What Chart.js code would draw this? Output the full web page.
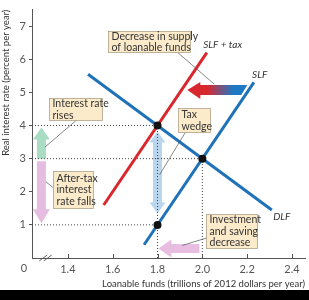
<!DOCTYPE html>
<html>
<head>
<meta charset="utf-8">
<script src="https://cdn.jsdelivr.net/npm/chart.js@4"></script>
<style>
  html, body { margin: 0; padding: 0; background: #000; }
  #wrap { width: 309px; height: 290px; background: #fff; }
</style>
</head>
<body>
<div id="wrap"><canvas id="chart" width="309" height="290"></canvas></div>
<script>
// curve endpoints (loanable funds, interest rate)
const slfX = [1.74, 2.23];
const slfY = [0.4, 5.3];
const slfTaxX = [1.56, 2.02];
const slfTaxY = [1.6, 6.2];
const dlfX = [1.49, 2.31];
const dlfY = [5.55, 1.45];
const eqX = [1.8, 2.0, 1.8];
const eqY = [4, 3, 1];

const xTicks = [1.4, 1.6, 1.8, 2.0, 2.2, 2.4];
const yTicks = [1, 2, 3, 4, 5, 6, 7];
const X_MIN = 1.24, X_MAX = 2.458, Y_MAX = 7.5;

const FONT = 'Lato, "Open Sans", sans-serif';
const BLUE = '#1f72b8', RED = '#d9272e';

const pts = (xs, ys) => xs.map((x, i) => ({ x, y: ys[i] }));

function dotted(xs, ys) {
  return { data: pts(xs, ys), showLine: true, borderColor: '#444', borderWidth: 1,
    borderDash: [1, 2], pointRadius: 0, order: 5 };
}

// annotation boxes: [xLeft, yTop, xRight, yBottom] in data units
const boxes = [
  { r: [1.578, 6.86, 1.942, 6.22], lines: ['Decrease in supply', 'of loanable funds'] },
  { r: [1.893, 4.52, 2.036, 3.79], lines: ['Tax', 'wedge'] },
  { r: [1.316, 4.84, 1.551, 4.17], lines: ['Interest rate', 'rises'] },
  { r: [1.333, 2.62, 1.511, 1.49], lines: ['After-tax', 'interest', 'rate falls'] },
  { r: [2.018, 1.34, 2.244, 0.32], lines: ['Investment', 'and saving', 'decrease'] }
];
const leaders = [
  [1.889, 6.21, 2.053, 5.25],
  [1.924, 3.79, 1.809, 2.51],
  [1.44, 4.17, 1.298, 3.35],
  [1.333, 2.13, 1.302, 2.30],
  [2.036, 0.64, 1.911, 0.38]
];
const curveLabels = [
  { x: 2.004, y: 6.44, t: 'SLF + tax' },
  { x: 2.222, y: 5.54, t: 'SLF' },
  { x: 2.316, y: 1.25, t: 'DLF' }
];

function arrow(ctx, x1, y1, x2, y2, bw, hw, hl, fill) {
  const len = Math.hypot(x2 - x1, y2 - y1);
  const ux = (x2 - x1) / len, uy = (y2 - y1) / len;
  const nx = -uy, ny = ux;
  const bx = x2 - ux * hl, by = y2 - uy * hl;
  ctx.beginPath();
  ctx.moveTo(x1 + nx * bw / 2, y1 + ny * bw / 2);
  ctx.lineTo(bx + nx * bw / 2, by + ny * bw / 2);
  ctx.lineTo(bx + nx * hw / 2, by + ny * hw / 2);
  ctx.lineTo(x2, y2);
  ctx.lineTo(bx - nx * hw / 2, by - ny * hw / 2);
  ctx.lineTo(bx - nx * bw / 2, by - ny * bw / 2);
  ctx.lineTo(x1 - nx * bw / 2, y1 - ny * bw / 2);
  ctx.closePath();
  ctx.fillStyle = fill;
  ctx.fill();
}

const decorations = {
  id: 'decorations',
  beforeDatasetsDraw(chart) {
    const { ctx } = chart;
    const X = v => chart.scales.x.getPixelForValue(v);
    const Y = v => chart.scales.y.getPixelForValue(v);
    ctx.save();
    // rate rises / falls arrows
    arrow(ctx, X(1.282), Y(3.0), X(1.282), Y(3.94), 9, 17, 12, '#a9dcc3');
    arrow(ctx, X(1.282), Y(2.92), X(1.282), Y(1.05), 9, 17, 14, '#e4bde0');
    // tax wedge double arrow
    const cx = X(1.8), top = Y(3.82), bot = Y(1.34);
    ctx.beginPath();
    ctx.moveTo(cx, top);
    ctx.lineTo(cx + 8, top + 11); ctx.lineTo(cx + 4.5, top + 11);
    ctx.lineTo(cx + 4.5, bot - 11); ctx.lineTo(cx + 8, bot - 11);
    ctx.lineTo(cx, bot);
    ctx.lineTo(cx - 8, bot - 11); ctx.lineTo(cx - 4.5, bot - 11);
    ctx.lineTo(cx - 4.5, top + 11); ctx.lineTo(cx - 8, top + 11);
    ctx.closePath();
    ctx.fillStyle = '#bad6ef';
    ctx.fill();
    // supply shift arrow (red to blue)
    const tip = X(1.933), tail = X(2.187), ay = Y(5.07);
    const g = ctx.createLinearGradient(tip, 0, tail, 0);
    g.addColorStop(0, RED); g.addColorStop(0.35, RED);
    g.addColorStop(0.8, '#1f78c4'); g.addColorStop(1, '#1f78c4');
    ctx.beginPath();
    ctx.moveTo(tip, ay);
    ctx.lineTo(tip + 13, ay - 8); ctx.lineTo(tip + 13, ay - 5);
    ctx.lineTo(tail + 3, ay - 5); ctx.lineTo(tail - 3, ay + 5);
    ctx.lineTo(tip + 13, ay + 5); ctx.lineTo(tip + 13, ay + 9);
    ctx.closePath();
    ctx.fillStyle = g;
    ctx.fill();
    // investment decrease arrow
    arrow(ctx, X(1.987), Y(0.29), X(1.804), Y(0.29), 9, 18, 13, '#e7bde1');
    ctx.restore();
  },
  afterDatasetsDraw(chart) {
    const { ctx } = chart;
    const X = v => chart.scales.x.getPixelForValue(v);
    const Y = v => chart.scales.y.getPixelForValue(v);
    const x0 = X(X_MIN), y0 = Y(0);
    ctx.save();
    // x tick marks pointing inward
    ctx.strokeStyle = '#555'; ctx.lineWidth = 1;
    xTicks.forEach(v => {
      const px = Math.round(X(v)) + 0.5;
      ctx.beginPath(); ctx.moveTo(px, y0); ctx.lineTo(px, y0 - 4); ctx.stroke();
    });
    // axis break
    ctx.lineWidth = 0.9;
    [X(1.29), X(1.31)].forEach(px => {
      ctx.beginPath(); ctx.moveTo(px - 4, y0 + 3); ctx.lineTo(px + 4, y0 - 3); ctx.stroke();
    });
    // origin label
    ctx.fillStyle = '#555';
    ctx.font = '11px ' + FONT;
    ctx.textAlign = 'center'; ctx.textBaseline = 'middle';
    ctx.fillText('0', x0 - 8, y0 + 10);
    // leader lines
    ctx.strokeStyle = '#555'; ctx.lineWidth = 0.7;
    leaders.forEach(l => {
      ctx.beginPath(); ctx.moveTo(X(l[0]), Y(l[1])); ctx.lineTo(X(l[2]), Y(l[3])); ctx.stroke();
    });
    // boxes
    ctx.font = '10.5px ' + FONT;
    ctx.textAlign = 'left'; ctx.textBaseline = 'middle';
    boxes.forEach(b => {
      const l = Math.round(X(b.r[0])) + 0.5, t = Math.round(Y(b.r[1])) + 0.5;
      const w = Math.round(X(b.r[2]) - X(b.r[0])), h = Math.round(Y(b.r[3]) - Y(b.r[1]));
      ctx.fillStyle = '#fcebca';
      ctx.fillRect(l, t, w, h);
      ctx.strokeStyle = '#b0a288'; ctx.lineWidth = 0.8;
      ctx.strokeRect(l, t, w, h);
      ctx.fillStyle = '#333';
      const lh = 11.5, start = t + (h - b.lines.length * lh) / 2 + lh / 2;
      b.lines.forEach((s, i) => ctx.fillText(s, l + 3, start + i * lh));
    });
    // curve labels
    ctx.font = 'italic 10px ' + FONT;
    ctx.textBaseline = 'middle';
    ctx.fillStyle = '#333';
    curveLabels.forEach(c => ctx.fillText(c.t, X(c.x), Y(c.y)));
    ctx.restore();
  }
};

new Chart(document.getElementById('chart'), {
  type: 'scatter',
  data: {
    datasets: [
      { data: pts(eqX, eqY), pointRadius: 4, pointBackgroundColor: '#111', pointBorderWidth: 0, order: 0 },
      { data: pts(slfTaxX, slfTaxY), showLine: true, borderColor: RED, borderWidth: 3, pointRadius: 0, order: 1 },
      { data: pts(slfX, slfY), showLine: true, borderColor: BLUE, borderWidth: 3, pointRadius: 0, order: 2 },
      { data: pts(dlfX, dlfY), showLine: true, borderColor: BLUE, borderWidth: 3, pointRadius: 0, order: 3 },
      dotted([X_MIN, eqX[0]], [eqY[0], eqY[0]]),
      dotted([X_MIN, eqX[1]], [eqY[1], eqY[1]]),
      dotted([X_MIN, eqX[2]], [eqY[2], eqY[2]]),
      dotted([eqX[0], eqX[0]], [0, eqY[0]]),
      dotted([eqX[1], eqX[1]], [0, eqY[1]])
    ]
  },
  plugins: [decorations],
  options: {
    responsive: false,
    animation: false,
    layout: { padding: { top: 1, right: 3, left: 0, bottom: 0 } },
    plugins: { legend: { display: false }, tooltip: { enabled: false } },
    scales: {
      x: {
        type: 'linear', min: X_MIN, max: X_MAX,
        afterBuildTicks: s => { s.ticks = xTicks.map(v => ({ value: v })); },
        afterFit: s => { s.height = 32; },
        grid: { drawOnChartArea: false, drawTicks: false },
        border: { display: true, color: '#555', width: 1 },
        ticks: { padding: 5, color: '#555', font: { family: FONT, size: 11 },
          callback: v => v.toFixed(1) },
        title: { display: true, text: 'Loanable funds (trillions of 2012 dollars per year)',
          align: 'end', color: '#333', font: { family: FONT, size: 9.5 }, padding: { top: 0, bottom: 0 } }
      },
      y: {
        type: 'linear', min: 0, max: Y_MAX,
        afterBuildTicks: s => { s.ticks = yTicks.map(v => ({ value: v })); },
        afterFit: s => { s.width = 32; },
        grid: { drawOnChartArea: false, drawTicks: true, tickLength: 3, color: '#555' },
        border: { display: true, color: '#555', width: 1 },
        ticks: { padding: 3, color: '#555', font: { family: FONT, size: 11 } },
        title: { display: true, text: 'Real interest rate (percent per year)',
          align: 'end', color: '#333', font: { family: FONT, size: 9.5 }, padding: { top: 0, bottom: 0 } }
      }
    }
  }
});
</script>
</body>
</html>
